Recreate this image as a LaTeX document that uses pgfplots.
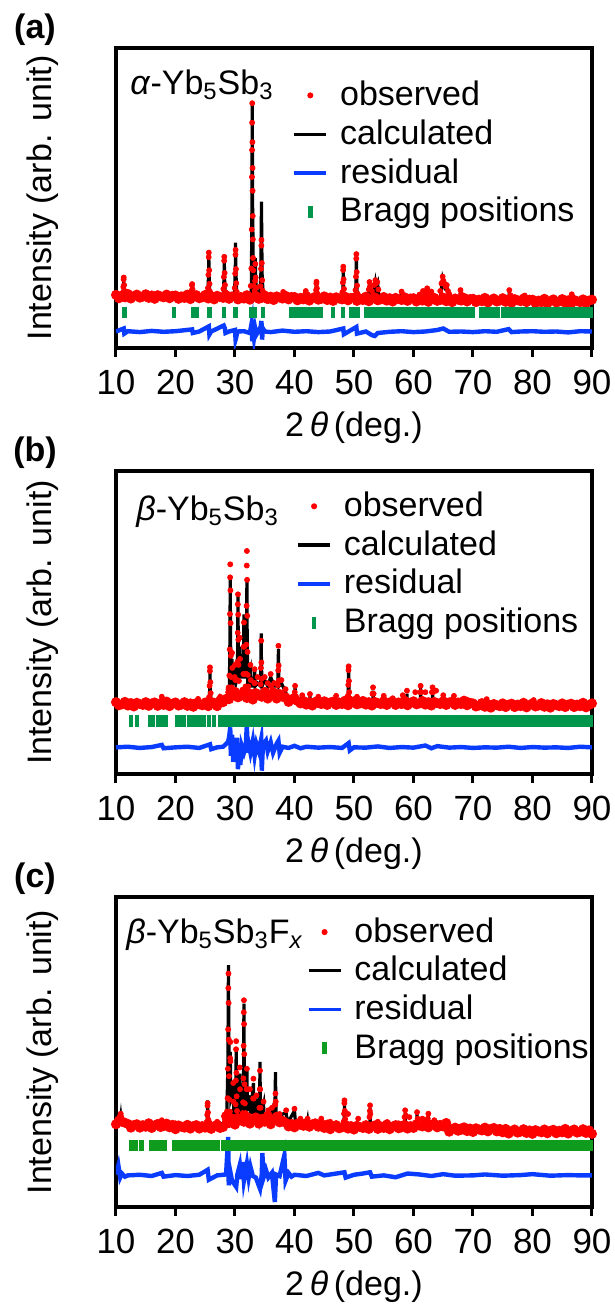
\documentclass[border=0pt]{standalone}
\usepackage{fontspec}
\setmainfont{Liberation Sans}
\usepackage{pgfplots}
\pgfplotsset{compat=1.18}
\definecolor{obsred}{RGB}{255,0,0}
\definecolor{resblue}{RGB}{10,60,255}
\definecolor{bgreen}{RGB}{0,150,75}
\definecolor{bgreenc}{RGB}{15,155,30}
\newcommand{\ft}{\fontsize{17}{20}\selectfont}
\pgfplotsset{
 xrd/.style={
  scale only axis, width=238pt,
  xmin=10, xmax=90, ymin=0, ymax=100,
  xtick={10,20,30,40,50,60,70,80,90}, ytick=\empty,
  xtick pos=bottom, tick align=outside, major tick length=4.5pt,
  major tick style={black, line width=1.5pt},
  axis line style={black, line width=1.7pt},
  /pgf/number format/assume math mode=true,
  xticklabel style={font=\fontsize{17.5}{18}\selectfont, anchor=center, yshift=-12.5pt},
  xlabel={2\,\textit{θ}\,(deg.)}, ylabel={Intensity (arb. unit)},
  xlabel style={font=\ft, at={(axis description cs:0.5,0)}, yshift=-40pt, anchor=center},
  ylabel style={font=\ft, at={(axis description cs:-0.153,0.5)}, anchor=center},
  clip mode=individual,
  legend cell align=left,
  legend style={draw=none, fill=none, inner sep=0pt, font=\ft, row sep=2.4pt, column sep=6pt, anchor=north west,
    nodes={inner sep=0pt, text height=13.5pt, text depth=3.5pt}},
 },
 obsb/.style={obsred, line width=2.3pt, mark=*, mark size=1.3pt, forget plot},
 obs/.style={only marks, mark=*, mark size=1.25pt, color=obsred, forget plot},
 calc/.style={black, line width=1.6pt, forget plot},
 res/.style={resblue, line width=2.2pt, forget plot},
 bragg/.style={only marks, mark=|, mark options={line width=2.2pt}, forget plot},
}
\newcommand{\xrdlegend}[1]{%
\addlegendimage{legend image code/.code={\path[draw=none,fill=none] (0pt,0pt) -- (16pt,0pt); \fill[obsred] (8pt,0pt) circle (1.3pt);}}
\addlegendimage{legend image code/.code={\draw[black, line width=1.6pt] (0pt,0pt) -- (16pt,0pt);}}
\addlegendimage{legend image code/.code={\draw[resblue, line width=1.8pt] (0pt,0pt) -- (16pt,0pt);}}
\addlegendimage{legend image code/.code={\path[draw=none,fill=none] (0pt,0pt) -- (16pt,0pt); \draw[#1, line width=2.2pt] (8pt,-3pt) -- (8pt,3pt);}}
\legend{observed,calculated,residual,Bragg positions}}
\begin{document}
\begin{tikzpicture}
\useasboundingbox (0pt,0pt) rectangle (307.5pt,-652.5pt);
% ---------------- (a) ----------------
\begin{axis}[xrd, height=150pt, at={(58pt,-24pt)}, anchor=north west,
  legend style={at={(axis description cs:0.37,0.9)}}]
\addplot[calc] coordinates {(10,17.2)(11.1,17.2)(11.25,20)(11.3,23)(11.35,20)(11.5,17.2)(20,17.1)(22.6,17.0)(22.75,19)(22.8,21.5)(22.85,19)(23.0,17.0)(25.4,17.0)(25.55,24)(25.6,31)(25.65,24)(25.8,17.0)(28.0,17.0)(28.15,23)(28.2,29.5)(28.25,23)(28.4,16.9)(29.9,16.9)(30.05,26)(30.1,35.1)(30.15,26)(30.3,16.8)(32.6,16.6)(32.75,20)(32.85,50)(32.9,81.8)(32.95,50)(33.1,21)(33.3,22)(33.4,30)(33.5,22)(33.7,18)(34.2,17.5)(34.35,25)(34.45,48.8)(34.55,25)(34.75,17)(38.05,16.7)(38.1,18.2)(38.15,16.7)(41.85,16.5)(41.9,18.5)(41.95,16.5)(43.55,16.5)(43.65,19.5)(43.7,22.5)(43.75,19.5)(43.85,16.5)(48.05,16.4)(48.15,21)(48.2,26.5)(48.25,21)(48.35,16.4)(50.25,16.3)(50.35,23)(50.4,30.5)(50.45,23)(50.55,16.3)(52.4,16.3)(52.6,21.5)(52.8,17.5)(53.2,17.5)(53.6,22)(53.8,19.5)(54.0,21)(54.2,16.3)(57.95,16.2)(58,18.5)(58.05,16.2)(61.5,16.2)(62.3,19.5)(63.0,16.5)(64.5,16.5)(64.9,23)(65.3,20)(65.6,20.5)(66.0,16.3)(67.85,16.1)(67.9,19)(67.95,16.1)(76.05,15.8)(76.1,19)(76.15,15.8)(86.55,15.6)(86.6,17.6)(86.65,15.6)(90,15.5)};
\addplot[obsb] coordinates {
(10.0,17.7)(10.5,16.6)(11.0,17.4)(11.5,16.9)(12.0,18.0)(12.5,16.5)(13.0,17.3)(13.5,17.8)(14.0,16.8)(14.5,17.1)
(15.0,17.9)(15.5,16.7)(16.0,17.5)(16.5,16.4)(17.0,17.6)(17.5,17.2)(18.0,16.9)(18.5,17.8)(19.0,16.6)(19.5,17.4)
(20.0,17.5)(20.5,16.4)(21.0,17.2)(21.5,16.7)(22.0,17.8)(22.5,16.3)(23.0,17.1)(23.5,17.6)(24.0,16.6)(24.5,16.9)
(25.0,17.7)(25.5,16.5)(26.0,17.3)(26.5,16.2)(27.0,17.4)(27.5,17.0)(28.0,16.7)(28.5,17.6)(29.0,16.4)(29.5,17.2)
(30.0,17.3)(30.5,16.2)(31.0,17.0)(31.5,16.5)(32.0,17.6)(32.5,16.1)(33.0,16.9)(33.5,17.4)(34.0,16.4)(34.5,16.7)
(35.0,17.5)(35.5,16.3)(36.0,17.1)(36.5,16.0)(37.0,17.2)(37.5,16.8)(38.0,16.5)(38.5,17.4)(39.0,16.2)(39.5,17.0)
(40.0,17.0)(40.5,15.9)(41.0,16.7)(41.5,16.2)(42.0,17.3)(42.5,15.8)(43.0,16.6)(43.5,17.1)(44.0,16.1)(44.5,16.4)
(45.0,17.2)(45.5,16.0)(46.0,16.8)(46.5,15.7)(47.0,16.9)(47.5,16.5)(48.0,16.2)(48.5,17.1)(49.0,15.9)(49.5,16.7)
(50.0,16.8)(50.5,15.7)(51.0,16.5)(51.5,16.0)(52.0,17.1)(52.5,15.6)(53.0,16.4)(53.5,16.9)(54.0,15.9)(54.5,16.2)
(55.0,17.0)(55.5,15.8)(56.0,16.6)(56.5,15.5)(57.0,16.7)(57.5,16.3)(58.0,16.0)(58.5,16.9)(59.0,15.7)(59.5,16.5)
(60.0,16.6)(60.5,15.5)(61.0,16.3)(61.5,15.8)(62.0,16.9)(62.5,15.4)(63.0,16.2)(63.5,16.7)(64.0,15.7)(64.5,16.0)
(65.0,16.8)(65.5,15.6)(66.0,16.4)(66.5,15.3)(67.0,16.5)(67.5,16.1)(68.0,15.8)(68.5,16.7)(69.0,15.5)(69.5,16.3)
(70.0,16.4)(70.5,15.3)(71.0,16.1)(71.5,15.6)(72.0,16.7)(72.5,15.2)(73.0,16.0)(73.5,16.5)(74.0,15.5)(74.5,15.8)
(75.0,16.6)(75.5,15.4)(76.0,16.2)(76.5,15.1)(77.0,16.3)(77.5,15.9)(78.0,15.6)(78.5,16.5)(79.0,15.3)(79.5,16.1)
(80.0,16.1)(80.5,15.0)(81.0,15.8)(81.5,15.3)(82.0,16.4)(82.5,14.9)(83.0,15.7)(83.5,16.2)(84.0,15.2)(84.5,15.5)
(85.0,16.3)(85.5,15.1)(86.0,15.9)(86.5,14.8)(87.0,16.0)(87.5,15.6)(88.0,15.3)(88.5,16.2)(89.0,15.0)(89.5,15.8)(90.0,16.1)};
\addplot[obs] coordinates {
(11.15,18.5)(11.23,20.4)(11.28,22.9)(11.30,23.5)(11.36,21.0)(11.42,19.1)
(22.73,19.2)(22.78,20.9)(22.80,21.3)(22.86,19.6)(22.92,18.3)
(25.45,20.0)(25.53,24.4)(25.58,30.3)(25.60,31.8)(25.66,25.9)(25.72,21.4)(25.80,18.8)
(28.05,19.7)(28.13,23.7)(28.18,29.1)(28.20,30.4)(28.26,25.0)(28.32,21.0)(28.40,18.6)
(29.95,20.0)(30.03,24.8)(30.08,31.1)(30.10,32.7)(30.16,26.3)(30.22,21.6)(30.30,18.7)
(32.65,20.7)(32.75,26.5)(32.81,39.5)(32.85,57.0)(32.87,66.0)(32.88,75.1)(32.90,81.6)(32.93,68.6)(32.95,60.0)(32.96,52.4)(32.98,44.0)(33.00,36.2)(33.03,30.0)(33.06,25.9)(33.15,20.7)
(33.30,19.0)(33.37,22.4)(33.42,28.0)(33.48,23.5)(33.55,20.1)
(34.30,20.6)(34.38,26.4)(34.43,34.1)(34.45,36.0)(34.51,28.3)(34.57,22.6)(34.65,19.1)
(38.10,18.7)(41.90,19.0)
(43.63,19.3)(43.68,21.5)(43.70,22.1)(43.76,19.9)(43.82,18.2)
(48.05,18.6)(48.13,21.8)(48.18,26.0)(48.20,27.1)(48.26,22.9)(48.32,19.7)(48.40,17.8)
(50.25,19.3)(50.33,23.8)(50.38,29.8)(50.40,31.3)(50.46,25.3)(50.52,20.8)(50.60,18.1)
(52.50,19.5)(52.60,22.0)(52.70,20.5)(53.00,19.0)(53.40,21.0)(53.60,22.6)(53.70,21.5)(53.90,22.0)(54.10,19.5)
(58.00,18.8)(61.00,17.8)(61.60,19.0)(62.00,18.5)(62.30,19.9)(62.60,18.4)(63.00,18.8)
(64.50,19.0)(64.70,21.5)(64.90,23.8)(65.00,22.5)(65.20,21.5)(65.40,20.5)(65.60,21.0)(65.80,19.0)(66.00,18.0)
(67.90,19.3)(68.00,18.0)(76.10,19.3)(76.30,17.6)(78.70,17.5)(86.60,17.9)};
\addplot[res] coordinates {(10,5.5)(11.3,6.5)(11.4,4.8)(12,5.6)(14,5.3)(16,5.7)(18,5.4)(20,5.6)(22.8,6.2)(22.9,5.0)(24,5.5)(25.6,7.2)(25.7,4.5)(26,5.5)(28.1,7.5)(28.3,6.5)(28.4,5)(29,5.5)(30.0,6.0)(30.1,2.8)(30.2,3.5)(30.4,5.5)(31.5,5.6)(32.5,5.0)(32.8,8.3)(32.9,2.2)(33.0,7.5)(33.2,3.5)(33.4,6.5)(33.6,4.5)(34.3,7.0)(34.45,9.0)(34.55,2.8)(34.7,6.5)(35,5.5)(36,5.3)(38,5.8)(40,5.4)(42,5.6)(44,5.3)(46,5.5)(48.2,6.5)(48.3,4.6)(50.4,7.0)(50.5,4.8)(52,5.5)(53,4.3)(53.5,4.0)(54,5.0)(56,5.4)(58,5.6)(60,5.3)(62,5.5)(64,6.0)(65,6.5)(66,5.4)(68,5.5)(70,5.3)(72,5.6)(74,5.4)(76,6.3)(76.5,5.3)(78,5.5)(80,5.6)(82,5.4)(84,5.5)(86,5.2)(88,5.6)(90,5.5)};
\addplot[bragg, color=bgreen, mark size=2.75pt] coordinates {
(11.4,12)(19.7,12)(22.9,12)(23.3,12)(23.6,12)(25.7,12)(28.2,12)(30.1,12)(32.8,12)(33.3,12)(34.7,12)
(39.5,12)(39.9,12)(40.3,12)(41.0,12)(41.4,12)(41.8,12)(42.3,12)(42.7,12)(43.3,12)(43.7,12)(44.4,12)(46.5,12)(48.2,12)
(49.5,12)(49.9,12)(50.3,12)(50.7,12)(52.0,12)(52.4,12)(52.8,12)(53.2,12)(53.6,12)(54.0,12)(54.4,12)(54.8,12)(55.2,12)
(55.6,12)(56.0,12)(56.4,12)(57.0,12)(57.4,12)(57.8,12)(58.2,12)(58.6,12)(59.0,12)(59.4,12)(59.8,12)(60.2,12)(60.8,12)
(61.2,12)(61.6,12)(62.0,12)(62.4,12)(62.8,12)(63.2,12)(63.6,12)(64.2,12)(64.6,12)(65.0,12)(65.4,12)(65.8,12)(66.2,12)
(66.6,12)(67.0,12)(67.6,12)(68.0,12)(68.4,12)(68.8,12)(69.2,12)(69.6,12)(70.0,12)(71.3,12)(71.7,12)(72.1,12)(72.5,12)
(72.9,12)(73.3,12)(73.7,12)(74.1,12)(75.0,12)(75.4,12)(75.8,12)(76.2,12)(76.6,12)(77.0,12)(77.4,12)(77.8,12)(78.2,12)
(78.6,12)(79.0,12)(79.4,12)(79.8,12)(80.2,12)(80.6,12)(81.0,12)(81.4,12)(81.8,12)(82.2,12)(82.6,12)(83.0,12)(83.4,12)
(83.8,12)(84.2,12)(84.6,12)(85.0,12)(85.4,12)(85.8,12)(86.2,12)(86.6,12)(87.0,12)(87.4,12)(87.8,12)(88.2,12)(88.6,12)
(89.0,12)(89.4,12)(89.8,12)};
\node[anchor=west, inner sep=0pt, font=\ft] at (rel axis cs:0,1) [xshift=7pt, yshift=-18.5pt] {\textit{α}-Yb\textsubscript{5}Sb\textsubscript{3}};
\node[font=\ft\bfseries, inner sep=0pt] at (rel axis cs:0,1) [xshift=-40.5pt, yshift=9pt] {(a)};
\xrdlegend{bgreen}
\end{axis}
% ---------------- (b) ----------------
\begin{axis}[xrd, height=151.5pt, at={(58pt,-235.5pt)}, anchor=north west,
  legend style={at={(axis description cs:0.378,0.941)}}]
\addplot[calc] coordinates {(10,23.1)(17.65,23.1)(17.7,25.0)(17.75,23.1)(25.6,23.0)(25.75,28)(25.8,34.1)(25.85,28)(26.0,23.0)(27.3,23.5)(27.5,25)(27.7,24)(28.7,25)(28.9,27.5)(29.05,28)(29.15,45)(29.2,64.8)(29.25,45)(29.35,30)(29.5,38)(29.6,30)(30.0,34)(30.15,30)(30.4,32)(30.45,42)(30.5,59.3)(30.55,42)(30.7,32)(30.8,42)(30.9,32)(31.4,32)(31.5,52.7)(31.6,32)(31.9,32)(31.95,45)(32.0,64.3)(32.05,45)(32.15,30)(32.6,34)(32.7,29)(33.2,29)(33.3,34.6)(33.4,29)(33.8,30)(34.3,29)(34.35,36)(34.4,46.4)(34.45,36)(34.55,29)(35.0,31)(35.5,29)(36.0,32)(36.6,29)(37.2,29)(37.3,41.2)(37.4,29)(37.8,30)(38.5,27)(39.0,24.5)(40.0,25)(40.1,28.5)(40.2,24.5)(42.55,23.5)(42.6,25.8)(42.65,23.5)(49.0,23.4)(49.1,36.3)(49.2,23.4)(53.15,23.4)(53.2,27.5)(53.25,23.4)(58.85,23.5)(58.9,26.5)(58.95,23.5)(61.15,23.5)(61.2,28.3)(61.25,23.5)(63.15,23.5)(63.2,27.8)(63.25,23.5)(66.75,23.3)(66.8,24.8)(66.85,23.3)(72.25,22.8)(72.3,24.1)(72.35,22.8)(80.15,22.7)(80.2,23.8)(80.25,22.7)(90,22.6)};
\addplot[obsb] coordinates {
(10.0,23.7)(10.5,22.7)(11.0,23.0)(11.5,23.8)(12.0,22.6)(12.5,23.4)(13.0,22.3)(13.5,23.5)(14.0,23.1)(14.5,22.8)
(15.0,23.7)(15.5,22.5)(16.0,23.3)(16.5,23.6)(17.0,22.5)(17.5,23.3)(18.0,22.8)(18.5,23.9)(19.0,22.4)(19.5,23.2)
(20.0,23.6)(20.5,22.6)(21.0,22.9)(21.5,23.7)(22.0,22.5)(22.5,23.3)(23.0,22.2)(23.5,23.4)(24.0,23.0)(24.5,22.7)
(25.0,23.6)(25.5,22.4)(26.0,23.2)(26.5,23.5)(27.0,22.4)(27.5,24.2)(28.0,23.7)(28.5,24.8)(29.0,24.7)(29.5,26.2)
(30.0,27.1)(30.5,25.3)(31.0,25.8)(31.5,27.3)(32.0,25.1)(32.5,26.5)(33.0,24.6)(33.5,26.7)(34.0,26.0)(34.5,25.5)
(35.0,27.1)(35.5,24.9)(36.0,26.4)(36.5,26.9)(37.0,24.9)(37.5,26.4)(38.0,25.5)(38.5,25.3)(39.0,23.8)(39.5,24.6)
(40.0,25.1)(40.5,24.1)(41.0,23.3)(41.5,24.1)(42.0,22.9)(42.5,23.7)(43.0,22.6)(43.5,23.8)(44.0,23.4)(44.5,23.1)
(45.0,24.0)(45.5,22.8)(46.0,23.6)(46.5,23.9)(47.0,22.8)(47.5,23.6)(48.0,23.1)(48.5,24.2)(49.0,22.7)(49.5,23.5)
(50.0,24.0)(50.5,23.0)(51.0,23.3)(51.5,24.1)(52.0,22.9)(52.5,23.7)(53.0,22.6)(53.5,23.8)(54.0,23.4)(54.5,23.1)
(55.0,24.0)(55.5,22.8)(56.0,23.6)(56.5,23.9)(57.0,22.8)(57.5,23.6)(58.0,23.1)(58.5,24.2)(59.0,22.7)(59.5,23.5)
(60.0,24.0)(60.5,23.0)(61.0,23.3)(61.5,24.1)(62.0,22.9)(62.5,23.7)(63.0,22.6)(63.5,23.8)(64.0,23.4)(64.5,23.1)
(65.0,24.0)(65.5,22.8)(66.0,23.6)(66.5,23.9)(67.0,22.8)(67.5,23.6)(68.0,23.1)(68.5,24.2)(69.0,22.7)(69.5,23.5)
(70.0,23.3)(70.5,22.3)(71.0,22.6)(71.5,23.4)(72.0,22.2)(72.5,23.0)(73.0,21.9)(73.5,23.1)(74.0,22.7)(74.5,22.4)
(75.0,23.3)(75.5,22.1)(76.0,22.9)(76.5,23.2)(77.0,22.1)(77.5,22.9)(78.0,22.4)(78.5,23.5)(79.0,22.0)(79.5,22.8)
(80.0,23.3)(80.5,22.3)(81.0,22.6)(81.5,23.4)(82.0,22.2)(82.5,23.0)(83.0,21.9)(83.5,23.1)(84.0,22.7)(84.5,22.4)
(85.0,23.3)(85.5,22.1)(86.0,22.9)(86.5,23.2)(87.0,22.1)(87.5,22.9)(88.0,22.4)(88.5,23.5)(89.0,22.0)(89.5,22.8)(90.0,23.3)};
\addplot[obs] coordinates {
(17.6,24.2)(17.7,25.5)(17.8,24.4)(23.8,24.8)
(25.65,25.4)(25.73,29.1)(25.78,34.0)(25.80,35.2)(25.86,30.3)(25.92,26.7)(26.0,24.5)
(27.5,25.5)(28.85,27.0)(28.9,28.0)
(28.95,28.6)(29.05,32.5)(29.11,41.1)(29.15,52.8)(29.18,64.9)(29.20,69.2)(29.23,60.6)(29.26,49.8)(29.30,39.0)(29.36,32.0)(29.45,28.6)
(29.5,40.0)(29.55,35.0)(29.95,32.0)(30.0,36.0)(30.05,31.0)
(30.35,31.0)(30.42,37.0)(30.46,46.6)(30.48,56.0)(30.50,59.3)(30.53,52.6)(30.56,44.3)(30.60,36.0)(30.66,30.7)
(30.8,45.0)(30.85,38.0)
(31.4,33.0)(31.46,42.0)(31.5,50.0)(31.54,42.0)(31.6,33.0)
(31.78,28.9)(31.86,33.1)(31.91,42.7)(31.95,55.5)(31.98,68.8)(32.00,73.6)(32.03,64.1)(32.06,52.2)(32.10,40.3)(32.16,32.7)(32.25,28.9)
(32.6,36.0)(32.65,31.0)(33.25,30.0)(33.3,34.6)(33.35,30.0)(33.8,32.0)
(34.3,29.6)(34.36,35.0)(34.4,44.0)(34.44,36.8)(34.5,31.4)
(35.0,32.0)(35.5,30.0)(36.0,33.0)(36.05,29.0)(36.6,30.0)
(37.2,29.3)(37.26,34.2)(37.3,42.3)(37.34,35.8)(37.4,30.9)
(37.8,31.0)(38.5,28.0)(40.05,27.0)(40.1,29.1)(41.3,26.0)(42.6,26.4)(44.0,25.5)(47.0,25.8)
(48.97,25.8)(49.04,29.4)(49.08,34.3)(49.10,35.5)(49.15,30.7)(49.2,27.0)(49.28,25.0)
(50.5,25.5)(53.1,26.5)(53.2,28.6)(53.3,26.5)(55.0,25.8)(56.5,25.0)(58.2,26.0)(58.9,27.5)(60.3,27.0)
(61.1,27.0)(61.2,29.1)(61.3,27.0)(62.0,27.0)(63.1,27.0)(63.2,28.6)(63.3,27.0)(63.8,27.5)(65.0,26.0)(66.8,25.8)(69.0,24.5)(72.3,24.7)(80.2,24.4)};
\addplot[res] coordinates {(10,8.8)(12,9.0)(14,8.6)(16,8.9)(17.7,9.6)(18,8.5)(20,8.8)(22,9.0)(24,8.6)(25.8,9.8)(26,8.2)(27,8.8)(28,9.0)(28.8,10.5)(29.0,12)(29.2,15.4)(29.3,6)(29.5,13)(29.7,4)(29.9,11)(30.1,5)(30.3,12)(30.5,1.6)(30.7,10)(30.9,3)(31.1,9.5)(31.5,7)(31.8,9)(32.0,16.5)(32.1,7)(32.3,10)(32.6,7)(33.0,11)(33.3,6)(33.6,10)(34.0,7.5)(34.4,11.5)(34.5,1.1)(34.7,9.5)(35.2,11)(35.5,7.5)(36.0,10.5)(36.4,7)(37.0,10)(37.3,11)(37.5,7)(38,9.0)(39,8.6)(40,9.3)(41,8.5)(42,9.0)(44,8.7)(46,8.9)(48,8.6)(49.1,10.2)(49.3,7.8)(50,8.8)(52,8.7)(54,9.1)(56,8.6)(58,8.9)(60,8.7)(62,9.4)(63,8.5)(64,9.2)(66,8.7)(68,8.9)(70,8.6)(72,8.8)(74,8.7)(76,9.0)(78,8.6)(80,8.9)(82,8.7)(84,8.8)(86,8.6)(88,9.0)(90,8.8)};
\addplot[bragg, color=bgreen, mark size=3pt] coordinates {
(12.5,17.5)(13.5,17.5)(15.8,17.5)(16.2,17.5)(17.1,17.5)(17.5,17.5)(17.9,17.5)(18.3,17.5)(20.3,17.5)(21.0,17.5)(21.4,17.5)
(22.3,17.5)(22.7,17.5)(23.1,17.5)(23.5,17.5)(23.9,17.5)(24.3,17.5)(24.7,17.5)(25.6,17.5)(26.5,17.5)
(27.5,17.5)(28.0,17.5)(28.5,17.5)(29.0,17.5)(29.5,17.5)(30.0,17.5)(30.5,17.5)(31.0,17.5)(31.5,17.5)(32.0,17.5)
(32.5,17.5)(33.0,17.5)(33.5,17.5)(34.0,17.5)(34.5,17.5)(35.0,17.5)(35.5,17.5)(36.0,17.5)(36.5,17.5)(37.0,17.5)
(37.5,17.5)(38.0,17.5)(38.5,17.5)(39.0,17.5)(39.5,17.5)(40.0,17.5)(40.5,17.5)(41.0,17.5)(41.5,17.5)(42.0,17.5)
(42.5,17.5)(43.0,17.5)(43.5,17.5)(44.0,17.5)(44.5,17.5)(45.0,17.5)(45.5,17.5)(46.0,17.5)(46.5,17.5)(47.0,17.5)
(47.5,17.5)(48.0,17.5)(48.5,17.5)(49.0,17.5)(49.5,17.5)(50.0,17.5)(50.5,17.5)(51.0,17.5)(51.5,17.5)(52.0,17.5)
(52.5,17.5)(53.0,17.5)(53.5,17.5)(54.0,17.5)(54.5,17.5)(55.0,17.5)(55.5,17.5)(56.0,17.5)(56.5,17.5)(57.0,17.5)
(57.5,17.5)(58.0,17.5)(58.5,17.5)(59.0,17.5)(59.5,17.5)(60.0,17.5)(60.5,17.5)(61.0,17.5)(61.5,17.5)(62.0,17.5)
(62.5,17.5)(63.0,17.5)(63.5,17.5)(64.0,17.5)(64.5,17.5)(65.0,17.5)(65.5,17.5)(66.0,17.5)(66.5,17.5)(67.0,17.5)
(67.5,17.5)(68.0,17.5)(68.5,17.5)(69.0,17.5)(69.5,17.5)(70.0,17.5)(70.5,17.5)(71.0,17.5)(71.5,17.5)(72.0,17.5)
(72.5,17.5)(73.0,17.5)(73.5,17.5)(74.0,17.5)(74.5,17.5)(75.0,17.5)(75.5,17.5)(76.0,17.5)(76.5,17.5)(77.0,17.5)
(77.5,17.5)(78.0,17.5)(78.5,17.5)(79.0,17.5)(79.5,17.5)(80.0,17.5)(80.5,17.5)(81.0,17.5)(81.5,17.5)(82.0,17.5)
(82.5,17.5)(83.0,17.5)(83.5,17.5)(84.0,17.5)(84.5,17.5)(85.0,17.5)(85.5,17.5)(86.0,17.5)(86.5,17.5)(87.0,17.5)
(87.5,17.5)(88.0,17.5)(88.5,17.5)(89.0,17.5)(89.5,17.5)(89.8,17.5)};
\node[anchor=west, inner sep=0pt, font=\ft] at (rel axis cs:0,1) [xshift=10pt, yshift=-20.5pt] {\textit{β}-Yb\textsubscript{5}Sb\textsubscript{3}};
\node[font=\ft\bfseries, inner sep=0pt] at (rel axis cs:0,1) [xshift=-40.5pt, yshift=9pt] {(b)};
\xrdlegend{bgreen}
\end{axis}
% ---------------- (c) ----------------
\begin{axis}[xrd, height=155pt, at={(58pt,-448.5pt)}, anchor=north west,
  legend style={at={(axis description cs:0.40,0.943)}}]
\addplot[calc] coordinates {(10,27.0)(10.7,27.5)(10.8,29)(10.9,27)(12,26.2)(17.65,26.2)(17.7,27.6)(17.75,26.2)(25.3,26.0)(25.35,29)(25.4,34.4)(25.45,29)(25.5,26.0)(28.0,27.0)(28.3,28.2)(28.6,28)(28.8,45)(28.9,78)(29.0,45)(29.1,35)(29.2,50)(29.3,35)(29.7,38)(29.8,30)(30.1,30)(30.15,38)(30.2,51.6)(30.25,38)(30.4,30)(30.8,43)(30.9,30)(31.4,32)(31.45,45)(31.5,65.6)(31.55,45)(31.7,31)(32.0,44)(32.1,31)(32.5,36)(32.6,30)(33.1,40)(33.2,30)(33.6,35)(33.7,29)(34.1,30)(34.15,35)(34.2,46.8)(34.25,35)(34.35,29)(34.8,33)(34.9,28.5)(35.6,30.5)(35.7,28)(36.2,31)(36.3,28)(36.7,30)(36.8,43.5)(36.9,29)(37.5,29.5)(38.6,30.5)(38.8,27)(40.0,31)(40.2,26.5)(42.15,27.5)(42.2,28)(42.3,26.3)(48.3,25.8)(48.4,33)(48.5,25.8)(52.65,25.8)(52.7,32)(52.75,25.8)(58.55,25.8)(58.6,30.5)(58.65,25.8)(60.55,26)(60.6,30)(60.65,26)(62.45,26)(62.5,29.5)(62.55,26)(90,24.3)};
\addplot[obsb] coordinates {
(10.0,26.7)(10.5,27.9)(11.0,27.5)(11.5,27.2)(12.0,26.8)(12.5,25.6)(13.0,26.4)(13.5,26.7)(14.0,25.6)(14.5,26.4)
(15.0,25.9)(15.5,27.0)(16.0,25.5)(16.5,26.3)(17.0,26.8)(17.5,25.8)(18.0,26.1)(18.5,26.9)(19.0,25.7)(19.5,26.5)
(20.0,25.1)(20.5,26.3)(21.0,25.9)(21.5,25.6)(22.0,26.5)(22.5,25.3)(23.0,26.1)(23.5,26.4)(24.0,25.3)(24.5,26.1)
(25.0,25.6)(25.5,26.7)(26.0,25.2)(26.5,26.0)(27.0,26.5)(27.5,25.5)(28.0,25.8)(28.5,29.3)(29.0,27.1)(29.5,28.5)
(30.0,26.6)(30.5,28.7)(31.0,28.0)(31.5,27.5)(32.0,29.1)(32.5,26.9)(33.0,28.4)(33.5,28.9)(34.0,26.9)(34.5,28.4)
(35.0,27.5)(35.5,29.4)(36.0,26.7)(36.5,28.2)(37.0,29.1)(37.5,27.3)(38.0,27.8)(38.5,27.2)(39.0,26.0)(39.5,26.8)
(40.0,25.7)(40.5,26.9)(41.0,26.5)(41.5,26.2)(42.0,27.1)(42.5,25.9)(43.0,26.7)(43.5,27.0)(44.0,25.9)(44.5,26.7)
(45.0,25.5)(45.5,26.6)(46.0,25.1)(46.5,25.9)(47.0,26.4)(47.5,25.4)(48.0,25.7)(48.5,26.5)(49.0,25.3)(49.5,26.1)
(50.0,25.0)(50.5,26.2)(51.0,25.8)(51.5,25.5)(52.0,26.4)(52.5,25.2)(53.0,26.0)(53.5,26.3)(54.0,25.2)(54.5,26.0)
(55.0,25.5)(55.5,26.6)(56.0,25.1)(56.5,25.9)(57.0,26.4)(57.5,25.4)(58.0,25.7)(58.5,26.5)(59.0,25.3)(59.5,26.1)
(60.0,25.5)(60.5,26.7)(61.0,26.3)(61.5,26.0)(62.0,26.9)(62.5,25.7)(63.0,26.5)(63.5,26.8)(64.0,25.7)(64.5,26.5)
(65.0,26.0)(65.5,27.1)(66.0,24.3)(66.5,25.1)(67.0,25.6)(67.5,24.6)(68.0,24.9)(68.5,25.7)(69.0,24.5)(69.5,25.3)
(70.0,24.2)(70.5,25.4)(71.0,25.0)(71.5,24.7)(72.0,25.6)(72.5,24.4)(73.0,25.2)(73.5,25.5)(74.0,24.4)(74.5,25.2)
(75.0,24.1)(75.5,25.2)(76.0,23.7)(76.5,24.5)(77.0,25.0)(77.5,24.0)(78.0,24.3)(78.5,25.1)(79.0,23.9)(79.5,24.7)
(80.0,23.6)(80.5,24.8)(81.0,24.4)(81.5,24.1)(82.0,25.0)(82.5,23.8)(83.0,24.6)(83.5,24.9)(84.0,23.8)(84.5,24.6)
(85.0,24.1)(85.5,25.2)(86.0,23.7)(86.5,24.5)(87.0,25.0)(87.5,24.0)(88.0,24.3)(88.5,25.1)(89.0,23.9)(89.5,24.7)(90.0,23.6)};
\addplot[obs] coordinates {
(10.6,28.5)(10.7,29.5)(10.8,30.1)(10.9,29.0)(13.5,27.0)(17.7,28.0)(20.0,27.0)(23.5,27.0)
(25.25,27.4)(25.33,29.7)(25.38,32.7)(25.40,33.5)(25.46,30.5)(25.52,28.2)
(27.0,27.5)(28.3,28.5)
(28.65,30.8)(28.75,35.1)(28.81,44.6)(28.85,57.3)(28.88,70.6)(28.90,75.3)(28.93,65.8)(28.96,54.0)(29.00,42.2)(29.06,34.6)(29.15,30.8)
(29.18,48.0)(29.2,53.2)(29.24,47.0)(29.7,40.0)(29.75,34.0)
(30.1,33.1)(30.15,40.8)(30.18,50.9)(30.2,53.5)(30.24,43.3)(30.28,35.7)(30.35,31.0)
(30.8,45.0)(30.85,38.0)
(31.3,30.3)(31.36,33.8)(31.41,41.5)(31.45,52.0)(31.48,62.8)(31.50,66.7)(31.53,59.0)(31.56,49.3)(31.60,39.6)(31.66,33.4)(31.75,30.3)
(31.95,38.0)(32.0,44.6)(32.05,38.0)(32.5,38.0)(33.05,35.0)(33.1,41.4)(33.15,35.0)(33.6,36.0)
(34.1,32.0)(34.16,38.0)(34.2,44.0)(34.24,38.0)(34.3,32.0)
(34.8,34.0)(35.6,31.2)(36.2,32.0)(36.75,33.0)(36.8,36.6)(36.85,34.0)(37.5,30.0)(38.6,31.2)(40.0,31.7)(41.0,28.5)(42.2,28.5)(44.5,28.5)(46.0,27.5)
(48.25,27.5)(48.33,30.1)(48.38,33.5)(48.4,34.4)(48.46,31.0)(48.52,28.4)(48.6,27.0)
(49.0,30.0)(50.7,28.5)(52.6,29.0)(52.67,31.0)(52.7,32.8)(52.75,30.0)(54.0,27.5)(55.6,27.4)(57.5,27.0)
(58.5,29.0)(58.6,31.2)(58.7,29.5)(59.3,29.0)(60.6,30.6)(60.7,28.5)(61.5,28.5)(62.4,28.5)(62.5,30.1)(63.5,28.0)(65.8,26.9)(68.0,26.0)(71.0,25.5)};
\addplot[res] coordinates {(10,10.5)(10.4,13.4)(10.7,9.5)(11.0,10.8)(11.5,9.8)(12,10.2)(14,10.4)(16,10.0)(17.7,11.0)(18,9.8)(20,10.3)(22,10.0)(24,10.4)(25.4,12.0)(25.6,8.8)(27,10.2)(28.5,10.5)(28.85,22.6)(28.95,7.0)(29.2,11.5)(29.5,8.5)(30.2,6.5)(30.4,10.5)(30.8,13.5)(31.0,9)(31.3,14.5)(31.5,8.5)(32.0,14.0)(32.3,9.5)(32.6,13.0)(33.0,10)(33.5,9.5)(34.2,5.9)(34.5,10.5)(34.6,17.4)(34.8,9.5)(35.2,12.0)(35.6,9.5)(36.2,11)(36.7,1.6)(36.9,10.5)(37.5,10)(38.3,16.7)(38.5,8.5)(39,11)(39.5,9.8)(40,10.4)(42,10.0)(44,11.0)(45,10.2)(48.4,11.2)(48.6,9.5)(50,10.4)(51.5,10.8)(52.7,11.2)(53,9.8)(55,10.2)(57,9.6)(59,10.8)(61,10.5)(63,10.0)(65,10.6)(67,10.1)(70,10.2)(72,10.5)(75,10.1)(78,10.3)(80,10.6)(83,10.1)(86,10.3)(88,10.2)(90,10.2)};
\addplot[bragg, color=bgreenc, mark size=2.7pt] coordinates {
(12.6,19.9)(13.0,19.9)(13.3,19.9)(14.3,19.9)(15.9,19.9)(16.3,19.9)(16.7,19.9)(17.1,19.9)(17.5,19.9)(17.9,19.9)(18.2,19.9)
(19.8,19.9)(20.1,19.9)(20.5,19.9)(20.9,19.9)(21.2,19.9)(21.8,19.9)(22.2,19.9)(22.6,19.9)(23.1,19.9)(23.8,19.9)(24.2,19.9)
(24.6,19.9)(25.0,19.9)(25.4,19.9)(25.8,19.9)(26.4,19.9)(26.8,19.9)(27.1,19.9)
(28.0,19.9)(28.5,19.9)(29.0,19.9)(29.5,19.9)(30.0,19.9)(30.5,19.9)(31.0,19.9)(31.5,19.9)(32.0,19.9)
(32.5,19.9)(33.0,19.9)(33.5,19.9)(34.0,19.9)(34.5,19.9)(35.0,19.9)(35.5,19.9)(36.0,19.9)(36.5,19.9)(37.0,19.9)
(37.5,19.9)(38.0,19.9)(38.5,19.9)(39.0,19.9)(39.5,19.9)(40.0,19.9)(40.5,19.9)(41.0,19.9)(41.5,19.9)(42.0,19.9)
(42.5,19.9)(43.0,19.9)(43.5,19.9)(44.0,19.9)(44.5,19.9)(45.0,19.9)(45.5,19.9)(46.0,19.9)(46.5,19.9)(47.0,19.9)
(47.5,19.9)(48.0,19.9)(48.5,19.9)(49.0,19.9)(49.5,19.9)(50.0,19.9)(50.5,19.9)(51.0,19.9)(51.5,19.9)(52.0,19.9)
(52.5,19.9)(53.0,19.9)(53.5,19.9)(54.0,19.9)(54.5,19.9)(55.0,19.9)(55.5,19.9)(56.0,19.9)(56.5,19.9)(57.0,19.9)
(57.5,19.9)(58.0,19.9)(58.5,19.9)(59.0,19.9)(59.5,19.9)(60.0,19.9)(60.5,19.9)(61.0,19.9)(61.5,19.9)(62.0,19.9)
(62.5,19.9)(63.0,19.9)(63.5,19.9)(64.0,19.9)(64.5,19.9)(65.0,19.9)(65.5,19.9)(66.0,19.9)(66.5,19.9)(67.0,19.9)
(67.5,19.9)(68.0,19.9)(68.5,19.9)(69.0,19.9)(69.5,19.9)(70.0,19.9)(70.5,19.9)(71.0,19.9)(71.5,19.9)(72.0,19.9)
(72.5,19.9)(73.0,19.9)(73.5,19.9)(74.0,19.9)(74.5,19.9)(75.0,19.9)(75.5,19.9)(76.0,19.9)(76.5,19.9)(77.0,19.9)
(77.5,19.9)(78.0,19.9)(78.5,19.9)(79.0,19.9)(79.5,19.9)(80.0,19.9)(80.5,19.9)(81.0,19.9)(81.5,19.9)(82.0,19.9)
(82.5,19.9)(83.0,19.9)(83.5,19.9)(84.0,19.9)(84.5,19.9)(85.0,19.9)(85.5,19.9)(86.0,19.9)(86.5,19.9)(87.0,19.9)
(87.5,19.9)(88.0,19.9)(88.5,19.9)(89.0,19.9)(89.5,19.9)(89.8,19.9)};
\node[anchor=west, inner sep=0pt, font=\ft] at (rel axis cs:0,1) [xshift=5pt, yshift=-19pt] {\textit{β}-Yb\textsubscript{5}Sb\textsubscript{3}F\textsubscript{\textit{x}}};
\node[font=\ft\bfseries, inner sep=0pt] at (rel axis cs:0,1) [xshift=-40.5pt, yshift=9pt] {(c)};
\xrdlegend{bgreenc}
\end{axis}
\end{tikzpicture}
\end{document}
